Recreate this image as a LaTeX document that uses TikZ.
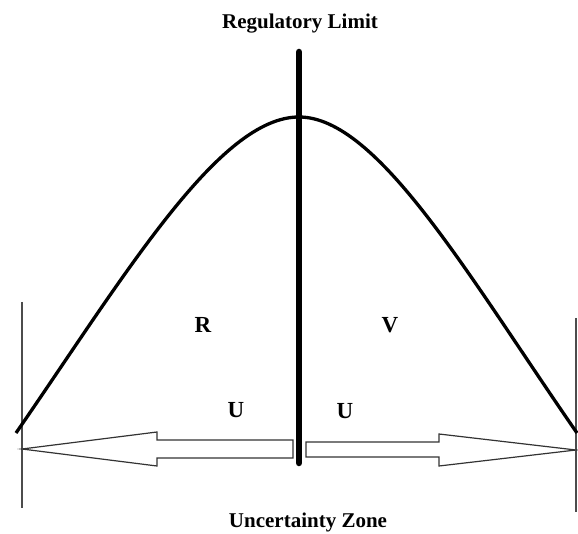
\documentclass[tikz,border=0pt]{standalone}
\usepackage{fontspec}
\setmainfont{Liberation Serif}
\begin{document}
\begin{tikzpicture}[x=1pt,y=-1pt,
  lbl/.style={font=\fontsize{21}{25}\selectfont\bfseries, anchor=base, inner sep=0pt},
  letter/.style={font=\fontsize{23}{27}\selectfont\bfseries, anchor=base, inner sep=0pt},
  curve/.style={line width=3.3pt, black},
  limit/.style={line width=6.5pt, black, line cap=round},
  edge/.style={line width=1.4pt, black!70},
  zonearrow/.style={line width=1.2pt, black!80, fill=white, line join=miter}]
\useasboundingbox (0,0) rectangle (578,534);
% thin vertical boundaries
\coordinate (lt) at (22,302); \coordinate (lb) at (22,508);
\coordinate (rt) at (576,318); \coordinate (rb) at (576,512);
\draw[edge] (lt) -- (lb);
\draw[edge] (rt) -- (rb);
% bell curve
\coordinate (cl) at (16,433); \coordinate (peak) at (299,117); \coordinate (cr) at (577,433);
\draw[curve] (cl) .. controls (126,273.5) and (219,117) .. (peak)
  .. controls (378,117) and (469,277) .. (cr);
% arrows
\draw[zonearrow] (293,440) -- (157,440) -- (157,432) -- (22,449) -- (157,466) -- (157,458) -- (293,458) -- cycle;
\draw[zonearrow] (306,442) -- (439,442) -- (439,434) -- (576,450) -- (439,466) -- (439,457) -- (306,457) -- cycle;
% regulatory limit line
\coordinate (top) at (299,52); \coordinate (bot) at (299,463);
\draw[limit] (top) -- (bot);
% labels
\node[lbl] (reg) at (300,29) {Regulatory Limit};
\node[lbl] (unc) at (308,527) {Uncertainty Zone};
\node[letter] (R) at (203,333) {R};
\node[letter] (V) at (390,333) {V};
\node[letter] (U1) at (236,417) {U};
\node[letter] (U2) at (345,418) {U};
\end{tikzpicture}
\end{document}
